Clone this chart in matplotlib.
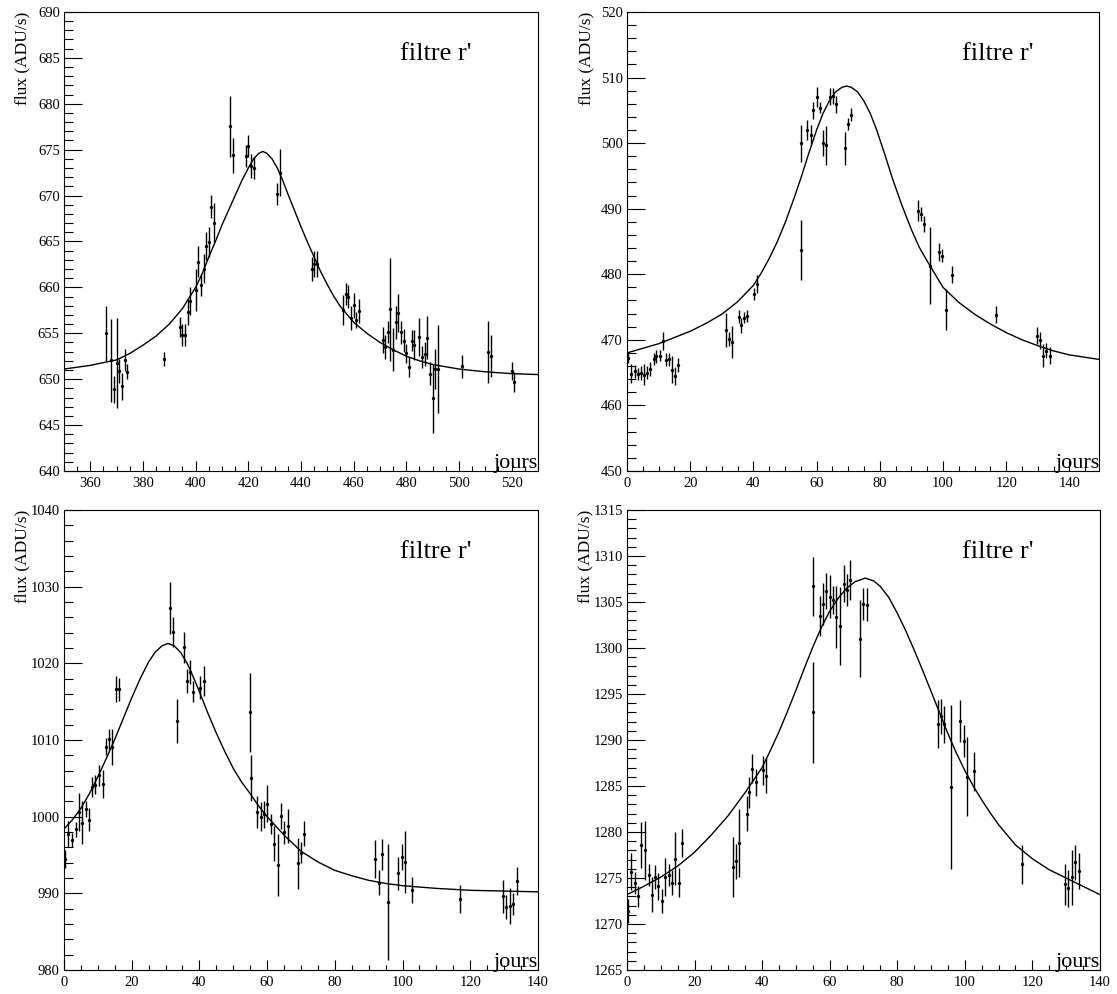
"""
Light curves in filter r' (four events) with fitted curves
"""

import matplotlib
matplotlib.use("Agg")
import matplotlib.pyplot as plt
from matplotlib.ticker import MultipleLocator

plt.rcParams['font.family'] = ['Liberation Serif', 'DejaVu Serif']

# --- panel A (top left) ---
days_a = [366, 368, 369, 370, 371, 372, 373, 374, 388, 394, 395, 396, 397, 398,
          400, 401, 402, 403, 404, 405, 406, 407, 413, 414, 419, 420, 421, 422,
          431, 432, 444, 445, 446, 456, 457, 458, 459, 460, 461, 462, 471, 472,
          473, 474, 475, 476, 477, 478, 479, 480, 481, 482, 483, 485, 486, 487,
          488, 489, 490, 491, 492, 501, 511, 512, 520, 521]
flux_a = [655.0, 652.05, 648.9, 651.8, 650.85, 649.2, 652.05, 650.8, 652.2, 655.67,
          654.8, 654.8, 657.3, 658.5, 659.7, 662.8, 660.3, 662.05, 664.5, 664.95,
          668.8, 667.05, 677.55, 674.4, 674.35, 675.4, 673.2, 673.0, 670.13, 672.5,
          661.97, 662.55, 662.55, 657.55, 659.25, 659.0, 656.7, 658.06, 656.45, 657.4,
          654.3, 653.5, 655.13, 657.6, 653.2, 656.2, 657.2, 655.1, 654.2, 652.8,
          651.3, 654.2, 653.7, 654.6, 652.4, 652.7, 654.5, 650.6, 647.9, 651.1,
          651.1, 651.4, 652.95, 652.55, 650.9, 649.65]
err_a = [3.0, 4.5, 1.45, 4.9, 1.3, 1.5, 1.2, 0.8, 0.8, 1.1,
         1.2, 1.2, 1.4, 1.5, 2.3, 1.7, 1.2, 1.6, 1.5, 1.6,
         1.3, 2.1, 3.3, 1.9, 1.2, 1.2, 1.3, 1.2, 1.2, 2.6,
         1.3, 1.4, 1.4, 1.6, 1.2, 1.25, 1.3, 1.35, 0.9, 1.3,
         1.4, 1.35, 1.2, 5.6, 2.35, 1.8, 2.1, 1.25, 1.25, 1.0,
         1.1, 1.1, 1.6, 2.05, 1.2, 1.3, 2.35, 1.25, 3.8, 2.2,
         4.8, 1.25, 3.35, 2.3, 1.0, 1.1]
fit_days_a = [350, 360, 370, 375, 380, 385, 390, 395, 400, 402.5, 405, 407.5, 410,
              412.5, 415, 417.5, 420, 422, 424, 425.5, 427, 429, 431, 433, 435,
              437.5, 440, 442.5, 445, 447.5, 450, 452.5, 455, 460, 465, 470, 475,
              480, 485, 490, 500, 510, 520, 530]
fit_flux_a = [651.1, 651.5, 652.1, 652.8, 653.7, 654.7, 656.0, 657.7, 660.0, 661.5,
              663.3, 665.0, 666.8, 668.4, 670.0, 671.6, 673.0, 674.0, 674.6, 674.8,
              674.6, 674.0, 673.0, 671.7, 670.2, 668.4, 666.6, 664.9, 663.3, 661.7,
              660.3, 659.0, 657.9, 656.2, 655.0, 654.0, 653.2, 652.5, 652.0, 651.6,
              651.1, 650.8, 650.6, 650.5]

# --- panels B, C, D share the same epochs ---
days_b = [0.3, 1.3, 2.4, 3.4, 4.3, 5.4, 6.4, 7.3, 8.4, 9.3, 10.4, 11.4, 12.3, 13.3,
          14.3, 15.3, 16.3, 31.4, 32.3, 33.3, 35.4, 36.2, 37.1, 38.1, 40.3, 41.3,
          55.0, 55.2, 57.1, 58.1, 59.0, 60.1, 61.1, 62.0, 63.1, 64.1, 65.1, 66.1,
          69.0, 70.0, 71.0, 92.0, 93.0, 93.9, 95.8, 98.7, 99.8, 100.8, 102.8, 116.9,
          129.8, 130.7, 131.7, 132.7, 133.7]

flux_b = [467.2, 464.85, 465.2, 464.8, 464.95, 464.7, 464.95, 465.56, 467.1, 467.5,
          467.6, 469.8, 466.98, 467.0, 465.46, 464.45, 466.2, 471.55, 470.1, 469.7,
          473.5, 472.2, 473.4, 473.6, 477.0, 478.55, 499.96, 483.7, 502.0, 501.3,
          505.0, 507.06, 505.4, 499.96, 499.65, 507.06, 507.2, 505.9, 499.2, 502.9,
          504.3, 489.66, 489.2, 487.7, 481.3, 483.4, 482.8, 474.6, 479.9, 473.8,
          470.6, 469.9, 467.6, 468.35, 467.6]
err_b = [0.8, 1.4, 1.0, 0.9, 1.1, 1.6, 1.0, 1.1, 0.9, 1.0,
         0.9, 1.4, 1.0, 1.0, 2.0, 1.4, 1.1, 2.6, 1.1, 2.4,
         1.0, 1.1, 0.9, 0.9, 0.9, 1.4, 2.8, 4.6, 1.5, 1.5,
         1.3, 1.5, 0.8, 2.0, 3.0, 1.3, 1.2, 1.3, 2.5, 0.9,
         1.0, 1.6, 1.1, 1.2, 5.9, 1.4, 1.0, 3.1, 1.3, 1.3,
         1.3, 1.3, 1.8, 1.1, 1.3]
fit_days_b = [0, 10, 20, 25, 30, 35, 40, 42.5, 45, 47.5, 50, 52.5, 55, 57.5, 60,
              62, 64, 66, 68, 69.5, 71, 73, 75, 77, 79, 81.5, 84, 87, 90, 92.5,
              95, 100, 105, 110, 115, 120, 125, 130, 135, 140, 149.5]
fit_flux_b = [468.0, 469.4, 471.3, 472.5, 473.9, 475.8, 478.3, 480.2, 482.4, 484.9,
              487.8, 491.1, 494.6, 498.4, 502.0, 504.5, 506.4, 507.8, 508.5, 508.7,
              508.5, 507.8, 506.4, 504.5, 502.0, 498.4, 494.6, 490.5, 486.8, 484.1,
              482.0, 478.0, 475.7, 473.9, 472.4, 471.1, 470.0, 469.1, 468.3, 467.7,
              467.0]

flux_c = [994.5, 997.8, 997.0, 998.35, 1000.6, 999.2, 1001.0, 999.6, 1003.9, 1004.2,
          1005.4, 1004.3, 1009.1, 1010.1, 1009.1, 1016.7, 1016.6, 1027.2, 1024.1, 1012.5,
          1022.1, 1017.7, 1018.9, 1016.3, 1016.8, 1017.7, 1013.6, 1005.0, 1000.6, 1000.0,
          1000.3, 1001.7, 999.1, 996.5, 993.7, 1000.1, 998.0, 998.8, 993.9, 995.3,
          997.8, 994.5, 991.4, 995.1, 988.9, 992.6, 994.8, 994.1, 990.4, 989.3,
          989.6, 988.2, 988.35, 988.6, 991.65]
err_c = [1.2, 1.7, 0.9, 1.0, 2.5, 2.8, 1.1, 1.5, 1.3, 1.3,
         1.4, 1.85, 1.1, 1.4, 2.4, 1.7, 1.5, 3.4, 2.0, 2.9,
         2.0, 1.6, 1.6, 1.4, 1.5, 2.0, 5.1, 3.0, 2.1, 1.9,
         1.75, 2.4, 1.3, 2.3, 4.1, 1.65, 1.5, 2.2, 3.3, 1.4,
         1.65, 2.5, 1.6, 2.0, 7.6, 2.1, 1.7, 4.1, 1.7, 1.85,
         2.1, 1.6, 2.4, 1.4, 1.85]
fit_days_c = [0, 2.5, 5, 7.5, 10, 12.5, 15, 17.5, 20, 22.5, 25, 27, 29, 30.7, 32.5,
              34.5, 36.5, 38.5, 40, 42.5, 45, 47.5, 50, 52.5, 55, 57.5, 60, 65, 70,
              75, 80, 85, 90, 95, 100, 110, 120, 130, 140]
fit_flux_c = [998.4, 999.6, 1001.1, 1003.0, 1005.2, 1007.6, 1010.1, 1012.8, 1015.5,
              1018.0, 1020.2, 1021.5, 1022.3, 1022.6, 1022.3, 1021.4, 1019.9, 1017.9,
              1016.3, 1013.5, 1010.9, 1008.5, 1006.3, 1004.5, 1003.0, 1001.4, 1000.0,
              997.6, 995.5, 994.1, 993.0, 992.3, 991.7, 991.3, 991.0, 990.65, 990.4,
              990.3, 990.2]

flux_d = [1271.4, 1275.7, 1274.5, 1273.0, 1278.55, 1278.0, 1275.3, 1273.2, 1275.1, 1274.1,
          1272.5, 1275.1, 1275.3, 1274.5, 1277.1, 1274.5, 1278.8, 1276.2, 1276.8, 1278.8,
          1282.0, 1284.3, 1286.9, 1285.4, 1286.7, 1286.1, 1306.7, 1293.0, 1303.5, 1304.8,
          1306.2, 1305.6, 1305.2, 1303.4, 1302.4, 1307.0, 1306.3, 1307.4, 1301.0, 1304.8,
          1304.7, 1291.7, 1292.6, 1291.7, 1284.9, 1292.1, 1289.9, 1286.0, 1286.6, 1276.5,
          1274.3, 1273.9, 1275.1, 1276.7, 1275.8]
err_d = [1.3, 2.0, 1.2, 1.1, 2.5, 3.2, 1.2, 1.9, 1.3, 1.45,
         1.3, 2.1, 1.2, 1.35, 2.9, 1.6, 1.5, 3.3, 1.9, 3.7,
         1.9, 1.65, 1.6, 1.5, 1.55, 1.9, 3.2, 5.5, 2.2, 2.25,
         2.0, 2.3, 1.5, 3.35, 4.2, 2.0, 1.7, 2.2, 4.2, 1.7,
         1.8, 2.6, 1.9, 2.0, 8.9, 2.3, 1.75, 4.3, 2.15, 2.1,
         2.2, 2.0, 3.0, 1.9, 1.95]
fit_days_d = [0, 5, 10, 15, 20, 25, 30, 35, 40, 42.5, 45, 47.5, 50, 52.5, 55, 57.5,
              60, 62.5, 65, 67.5, 70.5, 73, 75, 77.5, 80, 82.5, 85, 87.5, 90, 92.5,
              95, 97.5, 100, 102.5, 105, 107.5, 110, 115, 120, 125, 130, 135, 140]
fit_flux_d = [1273.2, 1274.1, 1275.1, 1276.3, 1277.8, 1279.7, 1281.8, 1284.3, 1287.0,
              1288.9, 1290.9, 1293.1, 1295.4, 1297.8, 1300.1, 1302.2, 1304.0, 1305.4,
              1306.5, 1307.2, 1307.6, 1307.3, 1306.7, 1305.5, 1303.8, 1301.9, 1299.8,
              1297.6, 1295.3, 1293.0, 1290.7, 1288.6, 1286.7, 1285.0, 1283.5, 1282.1,
              1280.8, 1278.6, 1277.1, 1275.9, 1275.0, 1274.1, 1273.2]


def plot_panel(ax, days, flux, err, fit_days, fit_flux, xlim, ylim, ymaj, ymin):
    ax.plot(fit_days, fit_flux, color='black', lw=1.0)
    ax.errorbar(days, flux, yerr=err, fmt='o', ms=2.4, mew=0, color='black',
                ecolor='black', elinewidth=1.0, capsize=0)
    ax.set_xlim(*xlim)
    ax.set_ylim(*ylim)
    ax.xaxis.set_major_locator(MultipleLocator(20))
    ax.xaxis.set_minor_locator(MultipleLocator(5))
    ax.yaxis.set_major_locator(MultipleLocator(ymaj))
    ax.yaxis.set_minor_locator(MultipleLocator(ymin))
    ax.tick_params(which='both', direction='in', top=False, right=False,
                   labelsize=10.5, width=0.8)
    ax.tick_params(axis='y', which='major', length=13, pad=3)
    ax.tick_params(axis='y', which='minor', length=6.5)
    ax.tick_params(axis='x', which='major', length=7, pad=4)
    ax.tick_params(axis='x', which='minor', length=3.6)
    for sp in ax.spines.values():
        sp.set_linewidth(0.8)
    ax.set_ylabel('flux (ADU/s)', fontsize=12.5, loc='top')
    ax.yaxis.set_label_coords(-0.07, 1.0)
    ax.text(0.709, 0.895, "filtre r'", transform=ax.transAxes, fontsize=19,
            ha='left', va='baseline')
    ax.text(1.0, 0.006, 'jours', transform=ax.transAxes, fontsize=16,
            ha='right', va='baseline')


fig = plt.figure(figsize=(11.17, 9.94), dpi=100)
ax1 = fig.add_axes([0.0573, 0.5262, 0.4243, 0.4618])
ax2 = fig.add_axes([0.5613, 0.5262, 0.4230, 0.4618])
ax3 = fig.add_axes([0.0573, 0.0241, 0.4243, 0.4628])
ax4 = fig.add_axes([0.5613, 0.0241, 0.4234, 0.4628])

plot_panel(ax1, days_a, flux_a, err_a, fit_days_a, fit_flux_a, (350, 530), (640, 690), 5, 1)
plot_panel(ax2, days_b, flux_b, err_b, fit_days_b, fit_flux_b, (0, 149.5), (450, 520), 10, 2)
plot_panel(ax3, days_b, flux_c, err_c, fit_days_c, fit_flux_c, (0, 140), (980, 1040), 10, 2)
plot_panel(ax4, days_b, flux_d, err_d, fit_days_d, fit_flux_d, (0, 140), (1265, 1315), 5, 1)

fig.savefig('out.png', dpi=100)
